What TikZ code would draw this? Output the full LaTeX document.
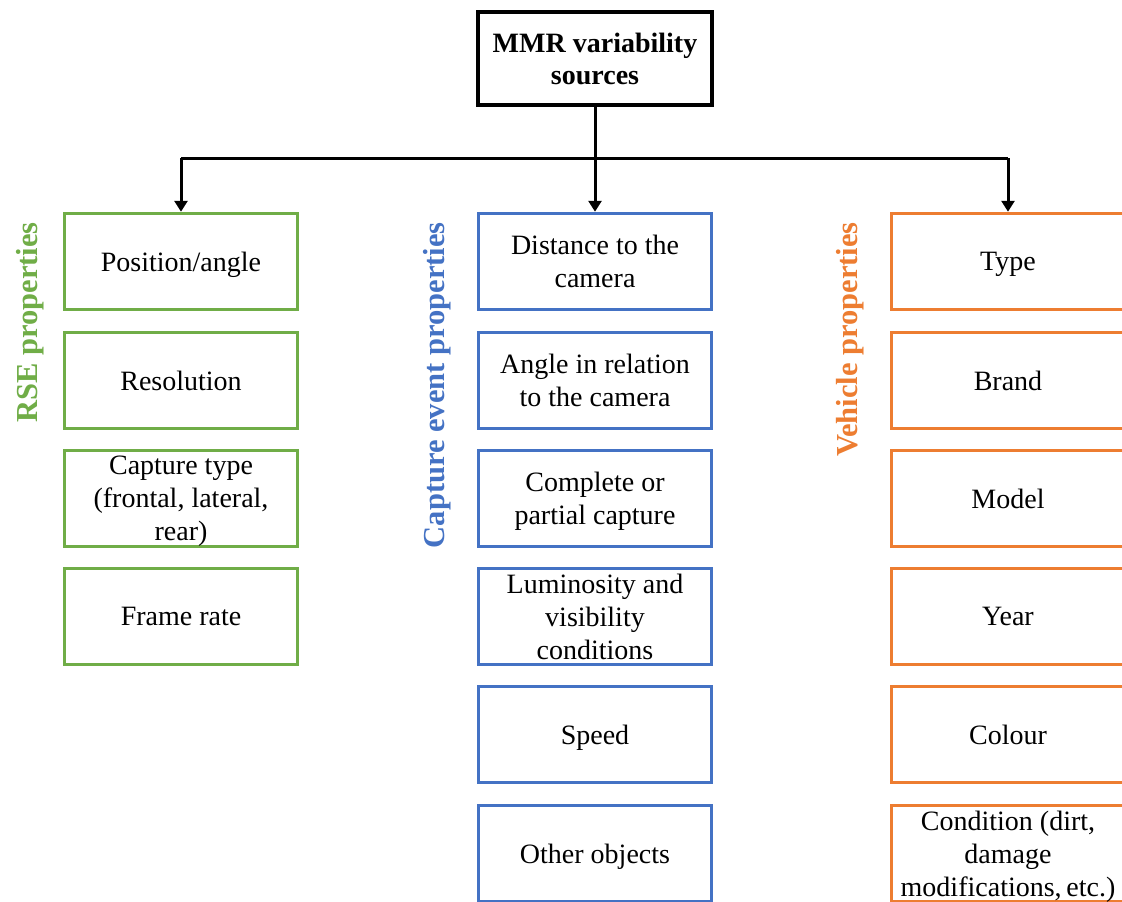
\documentclass[tikz,border=0pt]{standalone}
\usepackage{fontspec}
\setmainfont{Liberation Serif}
\usetikzlibrary{arrows.meta}
\definecolor{rsegreen}{RGB}{112,173,71}
\definecolor{capblue}{RGB}{68,114,196}
\definecolor{vehorange}{RGB}{237,125,49}

\begin{document}
\begin{tikzpicture}[x=1pt,y=-1pt,
  item/.style={draw=#1, line width=3.5pt, minimum width=233pt, minimum height=96pt,
    align=center, inner sep=0pt, text=black, text depth=0pt,
    font=\fontsize{28}{33}\selectfont},
  rootbox/.style={draw=black, line width=4pt, minimum width=234pt, minimum height=93pt,
    align=center, inner sep=0pt, font=\bfseries\fontsize{28}{32}\selectfont},
  grouplabel/.style={text=#1, rotate=90, anchor=east, inner sep=0pt,
    font=\bfseries\fontsize{30.5}{34}\selectfont},
  link/.style={line width=3pt, draw=black},
  tip/.style={link, -{Triangle[width=13pt,length=11pt]}}]

  \clip (0,0) rectangle (1122,902);
  \fill[white] (0,0) rectangle (1122,902);

  % root
  \node[rootbox] (root) at (595,58.5) {MMR variability\\sources};

  % RSE properties
  \node[item=rsegreen] (g1) at (181,261.5) {Position/angle};
  \node[item=rsegreen] (g2) at (181,380.5) {Resolution};
  \node[item=rsegreen] (g3) at (181,498.5) {Capture type\\(frontal, lateral,\\rear)};
  \node[item=rsegreen] (g4) at (181,616.5) {Frame rate};

  % Capture event properties
  \node[item=capblue] (b1) at (595,261.5) {Distance to the\\camera};
  \node[item=capblue] (b2) at (595,380.5) {Angle in relation\\to the camera};
  \node[item=capblue] (b3) at (595,498.5) {Complete or\\partial capture};
  \node[item=capblue] (b4) at (595,616.5) {Luminosity and\\visibility\\conditions};
  \node[item=capblue] (b5) at (595,734.5) {Speed};
  \node[item=capblue] (b6) at (595,853.5) {Other objects};

  % Vehicle properties
  \node[item=vehorange] (o1) at (1008,261.5) {Type};
  \node[item=vehorange] (o2) at (1008,380.5) {Brand};
  \node[item=vehorange] (o3) at (1008,498.5) {Model};
  \node[item=vehorange] (o4) at (1008,616.5) {Year};
  \node[item=vehorange] (o5) at (1008,734.5) {Colour};
  \node[item=vehorange] (o6) at (1008,853.5) {Condition (dirt,\\damage\\modifications,\,etc.)};

  % group labels
  \node[grouplabel=rsegreen] (lg) at (30,222) {RSE properties};
  \node[grouplabel=capblue] (lb) at (437,222) {Capture event properties};
  \node[grouplabel=vehorange] (lo) at (850,222) {Vehicle properties};

  % connectors
  \coordinate (bus) at (595,158);
  \draw[link] (root.south) -- (bus);
  \draw[link] (g1.north |- bus) -- (o1.north |- bus);
  \draw[tip] (g1.north |- bus) -- (g1.north);
  \draw[tip] (bus) -- (b1.north);
  \draw[tip] (o1.north |- bus) -- (o1.north);
\end{tikzpicture}
\end{document}
